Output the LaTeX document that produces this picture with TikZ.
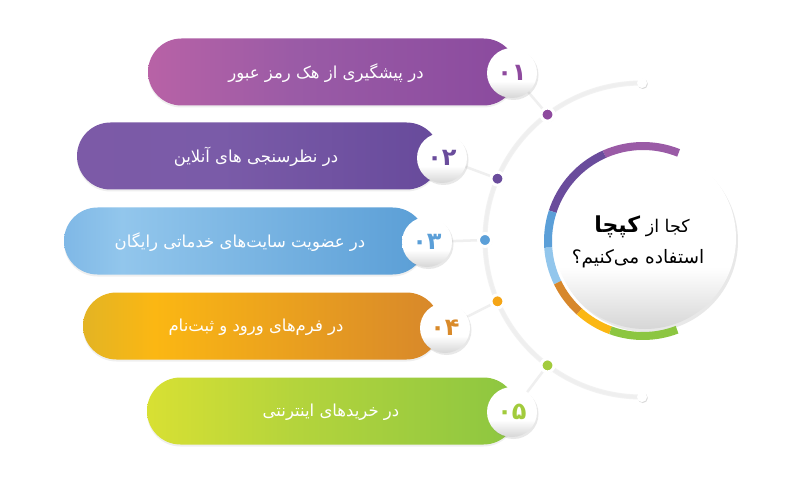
\documentclass[tikz,border=0pt]{standalone}
\usepackage{fontspec}
\newfontfamily\fa[Script=Arabic]{DejaVu Sans}
\TeXXeTstate=1
\usetikzlibrary{shadows,calc}
\definecolor{pa}{HTML}{B862A6}\definecolor{pb}{HTML}{9A5BA6}\definecolor{pc}{HTML}{8A4A9E}
\definecolor{qa}{HTML}{7C5AA7}\definecolor{qb}{HTML}{7A5BA8}\definecolor{qc}{HTML}{674A9B}
\definecolor{ba}{HTML}{7FB8E6}\definecolor{bb}{HTML}{92C6EC}\definecolor{bc}{HTML}{5A9ED6}
\definecolor{oa}{HTML}{E3B424}\definecolor{ob}{HTML}{FBB713}\definecolor{oc}{HTML}{D7872B}
\definecolor{ga}{HTML}{D8E033}\definecolor{gb}{HTML}{B4D43C}\definecolor{gc}{HTML}{8CC641}
\definecolor{n1}{HTML}{8E4A9E}\definecolor{n2}{HTML}{6A4C9C}\definecolor{n3}{HTML}{5B9FD8}
\definecolor{n4}{HTML}{D98A2A}\definecolor{n5}{HTML}{A2CB3C}
\definecolor{d4}{HTML}{F5A516}\definecolor{lineg}{HTML}{EFEFEF}
\pgfdeclarehorizontalshading{barA}{100bp}{color(0bp)=(pa); color(25bp)=(pa); color(45bp)=(pb); color(75bp)=(pc); color(100bp)=(pc)}
\pgfdeclarehorizontalshading{barB}{100bp}{color(0bp)=(qa); color(25bp)=(qa); color(45bp)=(qb); color(75bp)=(qc); color(100bp)=(qc)}
\pgfdeclarehorizontalshading{barC}{100bp}{color(0bp)=(ba); color(25bp)=(ba); color(33bp)=(bb); color(75bp)=(bc); color(100bp)=(bc)}
\pgfdeclarehorizontalshading{barD}{100bp}{color(0bp)=(oa); color(25bp)=(oa); color(35bp)=(ob); color(75bp)=(oc); color(100bp)=(oc)}
\pgfdeclarehorizontalshading{barE}{100bp}{color(0bp)=(ga); color(25bp)=(ga); color(45bp)=(gb); color(75bp)=(gc); color(100bp)=(gc)}
\pgfdeclareverticalshading{ballw}{100bp}{color(0bp)=(black!16); color(25bp)=(black!16); color(42bp)=(white); color(100bp)=(white)}
\begin{document}
\begin{tikzpicture}[x=1pt,y=-1pt,
  barshape/.style={rounded corners=33.5pt, drop shadow={opacity=0.12,shadow xshift=0pt,shadow yshift=-2pt}},
  bartext/.style={text=white,font=\fa\fontsize{16.5}{18}\selectfont,inner sep=0pt},
  numc/.style={circle,shading=ballw,minimum size=50pt,inner sep=0pt,font=\fa\bfseries\fontsize{24}{26}\selectfont,
     drop shadow={opacity=0.18,shadow xshift=1.5pt,shadow yshift=-2pt}},
  dotn/.style={circle,draw=white,line width=3pt,minimum size=13pt,inner sep=0pt,
     drop shadow={opacity=0.15,shadow xshift=0.8pt,shadow yshift=-1pt}},
  endn/.style={circle,fill=white,minimum size=10pt,inner sep=0pt,
     drop shadow={opacity=0.15,shadow xshift=0.8pt,shadow yshift=-1pt}},
  conn/.style={draw=lineg,line width=2.5pt},
  ringseg/.style={line width=8pt}]
\useasboundingbox (0,0) rectangle (800,481);
\fill[white] (0,0) rectangle (800,481);
% bars
\path[barshape,shading=barA] (148,38.5) rectangle (517,105.5);
\path[barshape,shading=barB] (77,122.5) rectangle (440,189.5);
\path[barshape,shading=barC] (64,207.5) rectangle (426,274.5);
\path[barshape,shading=barD] (83,292.5) rectangle (440,359.5);
\path[barshape,shading=barE] (147,377.5) rectangle (517,444.5);
\node[bartext] (t1) at (326,73) {\beginR در پیشگیری از هک رمز عبور\endR};
\node[bartext] (t2) at (256,157) {\beginR در نظرسنجی های آنلاین\endR};
\node[bartext] (t3) at (240,242) {\beginR در عضویت سایت^^^^200cهای خدماتی رایگان\endR};
\node[bartext] (t4) at (256,327) {\beginR در فرم^^^^200cهای ورود و ثبت^^^^200cنام\endR};
\node[bartext] (t5) at (331,412) {\beginR در خریدهای اینترنتی\endR};
% arc and its nodes
\coordinate (c) at (642,240);
\node[endn] (e1) at ($(c)+(-90:157)$) {};
\node[endn] (e2) at ($(c)+(90:157)$) {};
\coordinate (d1p) at ($(c)+(-127:157)$);
\coordinate (d2p) at ($(c)+(-157:157)$);
\coordinate (d3p) at ($(c)+(180:157)$);
\coordinate (d4p) at ($(c)+(157:157)$);
\coordinate (d5p) at ($(c)+(127:157)$);
\coordinate (q1) at (512,73);
\coordinate (q2) at (442,158);
\coordinate (q3) at (427,242);
\coordinate (q4) at (445,328);
\coordinate (q5) at (512,412);
\draw[conn] (q1) -- (d1p);
\draw[conn] (q2) -- (d2p);
\draw[conn] (q3) -- (d3p);
\draw[conn] (q4) -- (d4p);
\draw[conn] (q5) -- (d5p);
\draw[draw=black!5,line width=5pt] (e1.center) arc[start angle=-90,end angle=-270,radius=157];
\draw[draw=lineg,line width=3pt] (e1.center) arc[start angle=-90,end angle=-270,radius=157];
\node[endn] at (e1) {};
\node[endn] at (e2) {};
% number circles
\node[numc,text=n1] (nc1) at (q1) {۰۱};
\node[numc,text=n2] (nc2) at (q2) {۰۲};
\node[numc,text=n3] (nc3) at (q3) {۰۳};
\node[numc,text=n4] (nc4) at (q4) {۰۴};
\node[numc,text=n5] (nc5) at (q5) {۰۵};
% dots
\node[dotn,fill=n1] (d1) at (d1p) {};
\node[dotn,fill=n2] (d2) at (d2p) {};
\node[dotn,fill=n3] (d3) at (d3p) {};
\node[dotn,fill=d4] (d4) at (d4p) {};
\node[dotn,fill=n5] (d5) at (d5p) {};
% central circle
\node[circle,shading=ballw,minimum size=182pt,inner sep=0pt,
  drop shadow={opacity=0.18,shadow xshift=2pt,shadow yshift=-3pt}] (cc) at (645,238) {};
\coordinate (rc) at (643,241);
\draw[ringseg,draw=pb] ($(rc)+(-68:95)$) arc[start angle=-68,end angle=-114,radius=95];
\draw[ringseg,draw=n2] ($(rc)+(-114:95)$) arc[start angle=-114,end angle=-162,radius=95];
\draw[ringseg,draw=n3] ($(rc)+(-162:95)$) arc[start angle=-162,end angle=-184,radius=95];
\draw[ringseg,draw=bb] ($(rc)+(-184:95)$) arc[start angle=-184,end angle=-206,radius=95];
\draw[ringseg,draw=oc] ($(rc)+(-206:95)$) arc[start angle=-206,end angle=-228,radius=95];
\draw[ringseg,draw=ob] ($(rc)+(-228:95)$) arc[start angle=-228,end angle=-250,radius=95];
\draw[ringseg,draw=gc] ($(rc)+(-250:95)$) arc[start angle=-250,end angle=-291,radius=95];
\node[font=\fa\fontsize{17.5}{20}\selectfont,inner sep=0pt] (ct1) at (642,227) {\beginR کجا از {\bfseries\fontsize{22}{24}\selectfont کپچا}\endR};
\node[font=\fa\fontsize{18.5}{20}\selectfont,inner sep=0pt] (ct2) at (638,259) {\beginR استفاده می^^^^200cکنیم؟\endR};
\end{tikzpicture}
\end{document}
